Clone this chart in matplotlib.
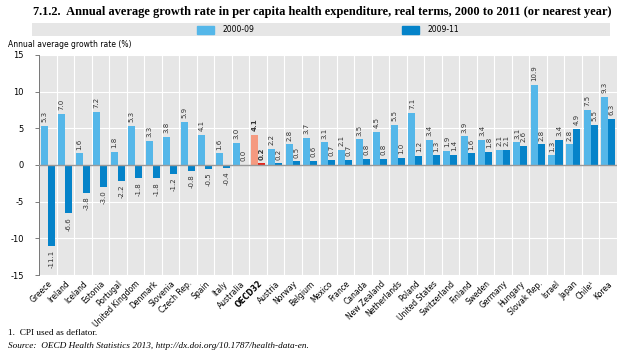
import numpy as np
import matplotlib.pyplot as plt

countries = ['Greece', 'Ireland', 'Iceland', 'Estonia', 'Portugal', 'United Kingdom',
             'Denmark', 'Slovenia', 'Czech Rep.', 'Spain', 'Italy', 'Australia', 'OECD32',
             'Austria', 'Norway', 'Belgium', 'Mexico', 'France', 'Canada', 'New Zealand',
             'Netherlands', 'Poland', 'United States', 'Switzerland', 'Finland', 'Sweden',
             'Germany', 'Hungary', 'Slovak Rep.', 'Israel', 'Japan', 'Chile\u00b9', 'Korea']
g_2000_09 = [5.3, 7.0, 1.6, 7.2, 1.8, 5.3, 3.3, 3.8, 5.9, 4.1, 1.6, 3.0, 4.1, 2.2, 2.8,
             3.7, 3.1, 2.1, 3.5, 4.5, 5.5, 7.1, 3.4, 1.9, 3.9, 3.4, 2.1, 3.1, 10.9, 1.3,
             2.8, 7.5, 9.3]
g_2009_11 = [-11.1, -6.6, -3.8, -3.0, -2.2, -1.8, -1.8, -1.2, -0.8, -0.5, -0.4, 0.0, 0.2,
             0.2, 0.5, 0.6, 0.7, 0.7, 0.8, 0.8, 1.0, 1.2, 1.3, 1.4, 1.6, 1.8, 2.1, 2.6,
             2.8, 3.4, 4.9, 5.5, 6.3]
yticks = [-15, -10, -5, 0, 5, 10, 15]

light = '#55b7e9'
dark = '#0583c9'
oecd_light = '#f59a80'
oecd_dark = '#e3241b'

fig = plt.figure(figsize=(6.3, 3.54), dpi=100)
ax = fig.add_axes([0.062, 0.223, 0.917, 0.622])
ax.set_facecolor('#e6e6e6')

x = np.arange(len(countries))
w = 0.4
oecd = countries.index('OECD32')
c1 = [oecd_light if i == oecd else light for i in x]
c2 = [oecd_dark if i == oecd else dark for i in x]
ax.bar(x - w / 2, g_2000_09, w, color=c1, zorder=3)
ax.bar(x + w / 2, g_2009_11, w, color=c2, zorder=3)

for i in x:
    for off, v in ((-w / 2, g_2000_09[i]), (w / 2, g_2009_11[i])):
        if v >= 0:
            ax.text(i + off, v + 0.5, f'{v:.1f}', rotation=90, ha='center', va='bottom',
                    fontsize=5, color='#333333', zorder=4,
                    fontweight='bold' if i == oecd else 'normal')
        else:
            ax.text(i + off, v - 0.5, f'{v:.1f}', rotation=90, ha='center', va='top',
                    fontsize=5, color='#333333', zorder=4)

ax.set_xlim(-0.5, len(countries) - 0.5)
ax.set_ylim(-15, 15)
ax.set_yticks(yticks)
ax.set_yticklabels([str(t) for t in yticks], fontsize=6, family='Liberation Sans Narrow')
for b in np.arange(0.5, len(countries) - 0.5, 1):
    ax.axvline(b, color='white', lw=0.8, zorder=1)
for t in yticks:
    ax.axhline(t, color='white', lw=0.8, zorder=1)
ax.axhline(0, color='#999999', lw=1.0, zorder=3.5)

ax.set_xticks(x)
ax.set_xticklabels(countries, rotation=45, ha='right', rotation_mode='anchor',
                   fontsize=5.5, family='Liberation Sans Narrow')
ax.get_xticklabels()[oecd].set_fontweight('bold')
ax.tick_params(axis='x', length=0, pad=3)
ax.tick_params(axis='y', length=3, width=0.6, color='#666666', pad=8)
for s in ['top', 'right', 'bottom']:
    ax.spines[s].set_visible(False)
ax.spines['left'].set_color('#666666')
ax.spines['left'].set_linewidth(0.6)

fig.text(0.052, 0.965, '7.1.2.  Annual average growth rate in per capita health expenditure, '
         'real terms, 2000 to 2011 (or nearest year)', fontsize=8.9, fontweight='bold',
         family='Liberation Serif', va='center')

# legend strip
leg_ax = fig.add_axes([0.051, 0.898, 0.917, 0.036])
leg_ax.set_facecolor('#e6e6e6')
leg_ax.set_xticks([])
leg_ax.set_yticks([])
for s in leg_ax.spines.values():
    s.set_visible(False)
leg_ax.set_xlim(0, 1)
leg_ax.set_ylim(0, 1)
leg_ax.add_patch(plt.Rectangle((0.285, 0.2), 0.03, 0.6, color=light))
leg_ax.text(0.33, 0.5, '2000-09', fontsize=5.5, va='center', family='Liberation Sans Narrow')
leg_ax.add_patch(plt.Rectangle((0.64, 0.2), 0.03, 0.6, color=dark))
leg_ax.text(0.685, 0.5, '2009-11', fontsize=5.5, va='center', family='Liberation Sans Narrow')

fig.text(0.013, 0.873, 'Annual average growth rate (%)', fontsize=5.5, va='center',
         family='Liberation Sans Narrow')

fig.text(0.013, 0.058, '1.  CPI used as deflator.', fontsize=6.7, family='Liberation Serif',
         va='center')
fig.text(0.013, 0.022, 'Source:  OECD Health Statistics 2013, http://dx.doi.org/10.1787/health-data-en.',
         fontsize=6.7, family='Liberation Serif', style='italic', va='center')

fig.savefig('out.png', dpi=100)
